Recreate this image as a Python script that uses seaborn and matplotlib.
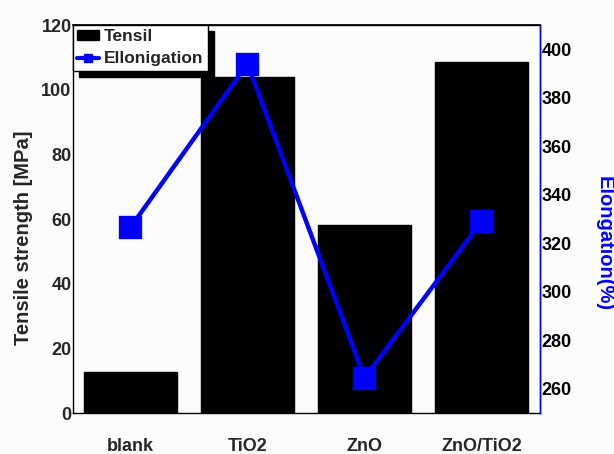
import matplotlib
matplotlib.use("Agg")
import matplotlib.pyplot as plt
from matplotlib.patches import Patch
from matplotlib.lines import Line2D
import seaborn as sns
import pandas as pd

# Sample groups and measured properties
samples = ["blank", "TiO2", "ZnO", "ZnO/TiO2"]
tensile_mpa = [12.7, 104.0, 58.0, 108.7]
elongation_pct = [326.5, 394.0, 264.5, 329.0]

df = pd.DataFrame({"sample": samples, "tensile": tensile_mpa, "elong": elongation_pct})

sns.set_theme(style="white")
plt.rcParams["font.family"] = ["Liberation Sans", "DejaVu Sans"]
plt.rcParams["font.weight"] = "bold"

bg = "#fbfbfb"
fig = plt.figure(figsize=(6.14, 4.54), dpi=100, facecolor=bg)
ax = fig.add_axes([73 / 614, 1 - 413 / 454, (540 - 73) / 614, (413 - 25) / 454])
ax.set_facecolor(bg)

sns.barplot(data=df, x="sample", y="tensile", color="black", width=0.8,
            saturation=1, ax=ax, edgecolor="black")
ax.set_ylim(0, 120)
ax.set_xlim(-0.49, 3.5)
ax.set_yticks(range(0, 121, 20))
ax.set_xlabel("")
ax.set_ylabel("Tensile strength [MPa]", fontsize=14.5, fontweight="bold",
              va="center", ha="center")
ax.yaxis.set_label_coords(-0.107, 0.451)
ax.tick_params(axis="y", length=0, pad=1, labelsize=13)
ax.tick_params(axis="x", length=0, pad=18, labelsize=13)
for lab in ax.get_xticklabels() + ax.get_yticklabels():
    lab.set_fontweight("bold")
for s in ax.spines.values():
    s.set_color("black")
    s.set_linewidth(1.0)

ax2 = ax.twinx()
sns.pointplot(data=df, x="sample", y="elong", ax=ax2, color="blue",
              markers="s", markersize=15, linewidth=3.2)
ax2.set_xlim(-0.49, 3.5)
ax2.set_ylim(250, 410)
ax2.set_yticks(range(260, 401, 20))
ax2.set_xlabel("")
ax2.set_ylabel("Elongation(%)", fontsize=14.5, fontweight="bold", color="blue",
               rotation=-90, va="center", ha="center")
ax2.yaxis.set_label_coords(1.137, 0.436)
ax2.tick_params(axis="y", length=0, pad=1, labelsize=13, colors="black")
for lab in ax2.get_yticklabels():
    lab.set_fontweight("bold")
ax2.spines["right"].set_color("blue")
ax2.spines["right"].set_linewidth(1.0)
ax2.spines["left"].set_visible(False)
ax2.spines["bottom"].set_visible(False)
ax2.spines["top"].set_color("black")

handles = [
    Patch(facecolor="black", edgecolor="black"),
    Line2D([], [], color="blue", lw=3, marker="s", markersize=6),
]
leg = ax2.legend(handles, ["Tensil", "Ellonigation"], loc="upper left",
                 bbox_to_anchor=(0, 1), frameon=True,
                 fancybox=False, framealpha=1, edgecolor="black",
                 prop={"weight": "bold", "size": 12.5},
                 handlelength=1.25, handleheight=0.5, handletextpad=0.3,
                 borderpad=0.25, borderaxespad=0, labelspacing=0.4,
                 shadow={"ox": 4.3, "oy": -4.3, "color": "black", "alpha": 1})
leg.get_frame().set_linewidth(1.0)

fig.savefig("out.png", dpi=100, facecolor=bg)
